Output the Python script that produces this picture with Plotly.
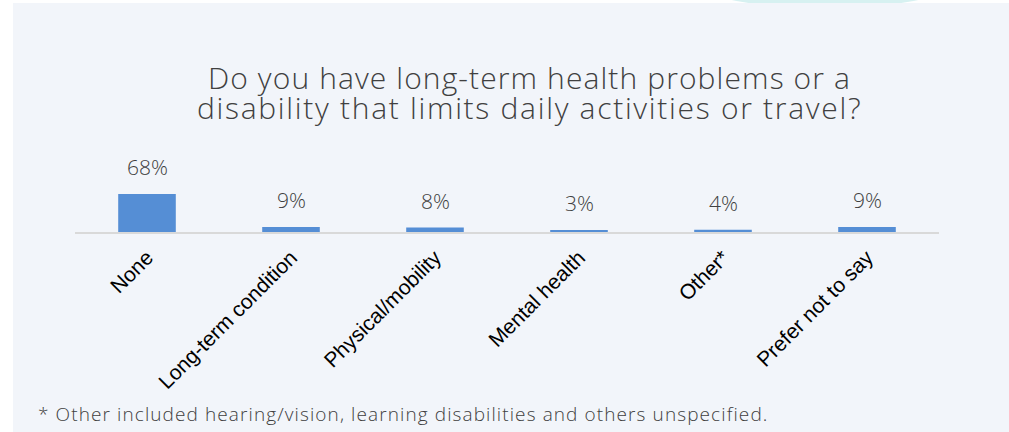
import plotly.graph_objects as go

categories = ["None", "Long-term condition", "Physical/mobility", "Mental health", "Other*", "Prefer not to say"]
values = [68, 9, 8, 3, 4, 9]
value_labels = ["68%", "9%", "8%", "3%", "4%", "9%"]
title_lines = ["Do you have long-term health problems or a",
               "disability that limits daily activities or travel?"]
footnote = "* Other included hearing/vision, learning disabilities and others unspecified."

W, H = 1009, 432
L, R, T, B = 75, 70, 176, 200
PW = W - L - R
PH = H - T - B

def px(x):
    return (x - L) / PW

def py(y):
    return (H - B - y) / PH

def spaced(s, ls):
    return f'<span style="letter-spacing:{ls}px">{s}</span>'

THIN = "Open Sans"
BAR = "#558ED5"
TXT = "#404040"

fig = go.Figure()
fig.add_trace(go.Bar(x=categories, y=values, marker=dict(color=BAR, line=dict(width=0)),
                     hoverinfo="skip"))

ann = []
for c, v, t in zip(categories, values, value_labels):
    ann.append(dict(x=c, y=v, xref="x", yref="y", text=t, showarrow=False,
                    yanchor="bottom", yshift=11,
                    font=dict(family=THIN, size=21, color=TXT, weight=300)))
for i, (line, ls) in enumerate(zip(title_lines, [1.1, 1.7])):
    ann.append(dict(x=px(529), y=py(77 + 30 * i), xref="paper", yref="paper",
                    text=spaced(line, ls),
                    showarrow=False, xanchor="center", yanchor="middle",
                    font=dict(family=THIN, size=30, color=TXT, weight=300)))
ann.append(dict(x=px(36), y=py(414), xref="paper", yref="paper", text=spaced(footnote, 1.1),
                showarrow=False, xanchor="left", yanchor="middle",
                font=dict(family=THIN, size=19, color=TXT, weight=300)))

shapes = [
    dict(type="circle", xref="paper", yref="paper", layer="below",
         x0=px(700), x1=px(950), y0=py(8), y1=py(-40),
         fillcolor="rgba(205,238,238,0.8)", line=dict(width=0)),
    dict(type="rect", xref="paper", yref="paper", layer="below",
         x0=px(13), x1=px(1012), y0=py(3), y1=py(435),
         fillcolor="#F2F5FA", line=dict(width=0)),
]

fig.update_layout(
    width=W, height=H,
    margin=dict(l=L, r=R, t=T, b=B, pad=0),
    paper_bgcolor="white", plot_bgcolor="rgba(0,0,0,0)",
    bargap=0.6, showlegend=False,
    annotations=ann, shapes=shapes,
    xaxis=dict(showline=True, linecolor="#D9D9D9", linewidth=2, ticks="",
               tickangle=-45, showgrid=False, ticklabelstandoff=3,
               tickfont=dict(family="Arial", size=21, color="black")),
    yaxis=dict(range=[0, 100], visible=False, showgrid=False, zeroline=False),
)

fig.write_html("out.html", config={"displayModeBar": False},
               post_script="document.body.style.margin='0';document.body.style.overflow='hidden';")
